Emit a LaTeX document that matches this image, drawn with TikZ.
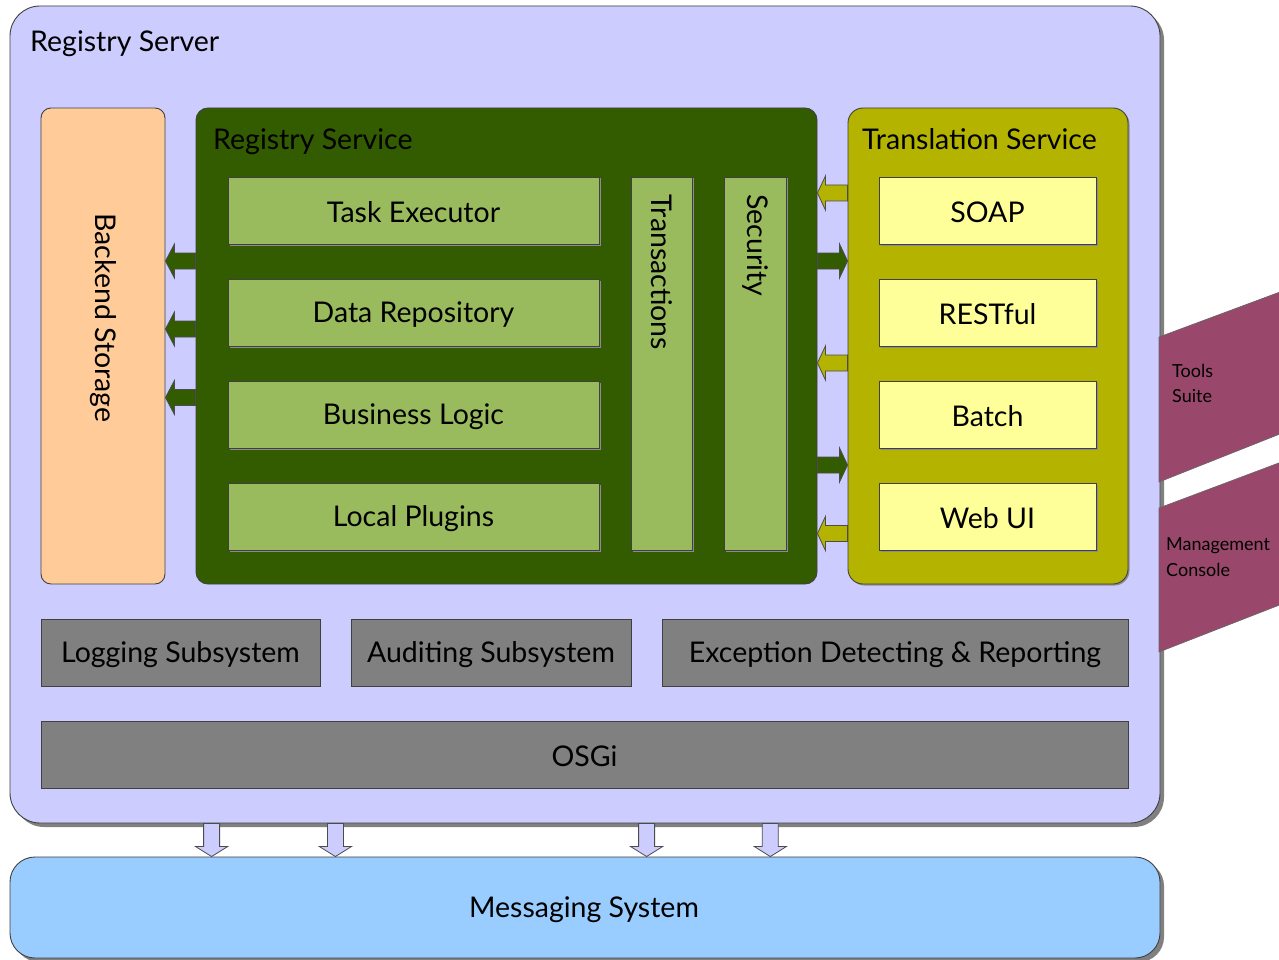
\documentclass[tikz,border=0pt]{standalone}
\usepackage{fontspec}
\setmainfont{Lato}
\usetikzlibrary{calc,shadows}
\definecolor{outerc}{RGB}{204,204,255}
\definecolor{backc}{RGB}{255,204,153}
\definecolor{rsc}{RGB}{51,92,0}
\definecolor{lgreen}{RGB}{153,187,94}
\definecolor{tsc}{RGB}{179,179,0}
\definecolor{lyellow}{RGB}{255,255,153}
\definecolor{grayc}{RGB}{128,128,128}
\definecolor{msgc}{RGB}{153,204,255}
\definecolor{purp}{RGB}{153,72,107}
\tikzset{
  box/.style={draw=black!75, line width=0.9pt, inner sep=0pt},
  lbl/.style={font=\fontsize{28.5}{34}\selectfont, text=black, inner sep=0pt},
  clbl/.style={lbl, yshift=-2pt},
  sml/.style={font=\fontsize{18}{22}\selectfont, text=black, inner sep=0pt},
  bigshadow/.style={drop shadow={shadow xshift=4pt, shadow yshift=-4pt, fill=black!50, opacity=1}},
  smallshadow/.style={drop shadow={shadow xshift=1.5pt, shadow yshift=-1.5pt, fill=black!45, opacity=1}},
  blockarr/.style={draw=black!70, line width=0.8pt, line join=miter}
}
% horizontal block arrow: from, to, fill, head offset (+ for left-pointing, - for right)
\newcommand\harrow[4]{%
  \draw[blockarr, fill=#3] let \p1=#1, \p2=#2 in
  (\x1,{\y1+8pt}) -- ({\x2+(#4)},{\y1+8pt}) -- ({\x2+(#4)},{\y1+17pt}) -- (\x2,\y1)
  -- ({\x2+(#4)},{\y1-17pt}) -- ({\x2+(#4)},{\y1-8pt}) -- (\x1,{\y1-8pt}) -- cycle;}
% vertical (downward) block arrow: from, to, fill
\newcommand\varrow[3]{%
  \draw[blockarr, fill=#3] let \p1=#1, \p2=#2 in
  ({\x1-8pt},\y1) -- ({\x1-8pt},{\y2+10pt}) -- ({\x1-16pt},{\y2+10pt}) -- (\x1,\y2)
  -- ({\x1+16pt},{\y2+10pt}) -- ({\x1+8pt},{\y2+10pt}) -- ({\x1+8pt},\y1) -- cycle;}
\begin{document}
\begin{tikzpicture}[x=1pt,y=-1pt]
\useasboundingbox (0,0) rectangle (1279,960);
\fill[white] (0,0) rectangle (1279,960);
\clip (0,0) rectangle (1279,960);

% outer registry server
\node[box, fill=outerc, rounded corners=30pt, bigshadow, minimum width=1150pt, minimum height=817pt] (rsv) at (585,414.5) {};
\node[lbl, anchor=base west] (rsvt) at (30,52) {Registry Server};

% side tools (purple)
\fill[purp, draw=black!60, line width=0.6pt] (1159,337) -- (1300,284.5) -- (1300,426) -- (1159,482) -- cycle;
\fill[purp, draw=black!60, line width=0.6pt] (1159,508) -- (1300,455) -- (1300,597) -- (1159,652) -- cycle;
\node[sml, anchor=base west] (tools1) at (1172,377) {Tools};
\node[sml, anchor=base west] (tools2) at (1172,402) {Suite};
\node[sml, anchor=base west] (mgmt1) at (1166,550) {Management};
\node[sml, anchor=base west] (mgmt2) at (1166,576) {Console};

% backend storage
\node[box, fill=backc, rounded corners=10pt, minimum width=124pt, minimum height=476pt] (bs) at (103,346) {};
\node[lbl, rotate=-90] (bst) at (103,318) {Backend Storage};

% registry service
\node[box, fill=rsc, rounded corners=12pt, minimum width=621pt, minimum height=476pt] (rs) at (506.5,346) {};
\node[lbl, anchor=base west] (rst) at (213,150) {Registry Service};
\node[box, fill=lgreen, smallshadow, minimum width=371pt, minimum height=67pt] (te) at (413.5,210.5) {};
\node[clbl] at (te) {Task Executor};
\node[box, fill=lgreen, smallshadow, minimum width=371pt, minimum height=67pt] (dr) at (413.5,312.5) {};
\node[clbl] at (dr) {Data Repository};
\node[box, fill=lgreen, smallshadow, minimum width=371pt, minimum height=67pt] (bl) at (413.5,414.5) {};
\node[clbl] at (bl) {Business Logic};
\node[box, fill=lgreen, smallshadow, minimum width=371pt, minimum height=67pt] (lp) at (413.5,516.5) {};
\node[clbl] at (lp) {Local Plugins};
\node[box, fill=lgreen, smallshadow, minimum width=61pt, minimum height=373pt] (tr) at (661.5,363.5) {};
\node[lbl, rotate=-90, anchor=west] (trt) at (661.5,194) {Transactions};
\node[box, fill=lgreen, smallshadow, minimum width=62pt, minimum height=373pt] (sec) at (755,363.5) {};
\node[lbl, rotate=-90, anchor=west] (sect) at (755,194) {Security};

% translation service
\node[box, fill=tsc, rounded corners=15pt, smallshadow, minimum width=280pt, minimum height=476pt] (ts) at (988,346) {};
\node[lbl, anchor=base west] (tst) at (862,150) {Translation Service};
\node[box, fill=lyellow, smallshadow, minimum width=217pt, minimum height=67pt] (soap) at (987.5,210.5) {};
\node[clbl] at (soap) {SOAP};
\node[box, fill=lyellow, smallshadow, minimum width=217pt, minimum height=67pt] (rest) at (987.5,312.5) {};
\node[clbl] at (rest) {RESTful};
\node[box, fill=lyellow, smallshadow, minimum width=217pt, minimum height=67pt] (batch) at (987.5,414.5) {};
\node[clbl] at (batch) {Batch};
\node[box, fill=lyellow, smallshadow, minimum width=217pt, minimum height=67pt] (web) at (987.5,516.5) {};
\node[clbl] at (web) {Web UI};

% subsystems
\node[box, fill=grayc, minimum width=279pt, minimum height=67pt] (log) at (180.5,652.5) {};
\node[clbl] at (log) {Logging Subsystem};
\node[box, fill=grayc, minimum width=280pt, minimum height=67pt] (aud) at (491,652.5) {};
\node[clbl] at (aud) {Auditing Subsystem};
\node[box, fill=grayc, minimum width=466pt, minimum height=67pt] (exc) at (895,652.5) {};
\node[clbl] at (exc) {Exception Detecting \& Reporting};
\node[box, fill=grayc, minimum width=1087pt, minimum height=67pt] (osgi) at (584.5,754.5) {};
\node[clbl] at (osgi) {OSGi};

% messaging system
\node[box, fill=msgc, rounded corners=25pt, bigshadow, minimum width=1150pt, minimum height=101pt] (msg) at (585,907.5) {};
\node[lbl] at (584,910) {Messaging System};

% arrows registry service -> backend storage
\harrow{(rs.west |- 0,261)}{(bs.east |- 0,261)}{rsc}{9pt}
\harrow{(rs.west |- 0,329)}{(bs.east |- 0,329)}{rsc}{9pt}
\harrow{(rs.west |- 0,397.5)}{(bs.east |- 0,397.5)}{rsc}{9pt}

% arrows between registry service and translation service
\harrow{(ts.west |- 0,193)}{(rs.east |- 0,193)}{tsc}{8pt}
\harrow{(rs.east |- 0,261)}{(ts.west |- 0,261)}{rsc}{-8pt}
\harrow{(ts.west |- 0,363)}{(rs.east |- 0,363)}{tsc}{8pt}
\harrow{(rs.east |- 0,465)}{(ts.west |- 0,465)}{rsc}{-8pt}
\harrow{(ts.west |- 0,533.5)}{(rs.east |- 0,533.5)}{tsc}{8pt}

% arrows registry server -> messaging
\varrow{(rsv.south -| 211.6,0)}{(msg.north -| 211.6,0)}{outerc}
\varrow{(rsv.south -| 335.4,0)}{(msg.north -| 335.4,0)}{outerc}
\varrow{(rsv.south -| 646.6,0)}{(msg.north -| 646.6,0)}{outerc}
\varrow{(rsv.south -| 770.3,0)}{(msg.north -| 770.3,0)}{outerc}
\end{tikzpicture}
\end{document}
